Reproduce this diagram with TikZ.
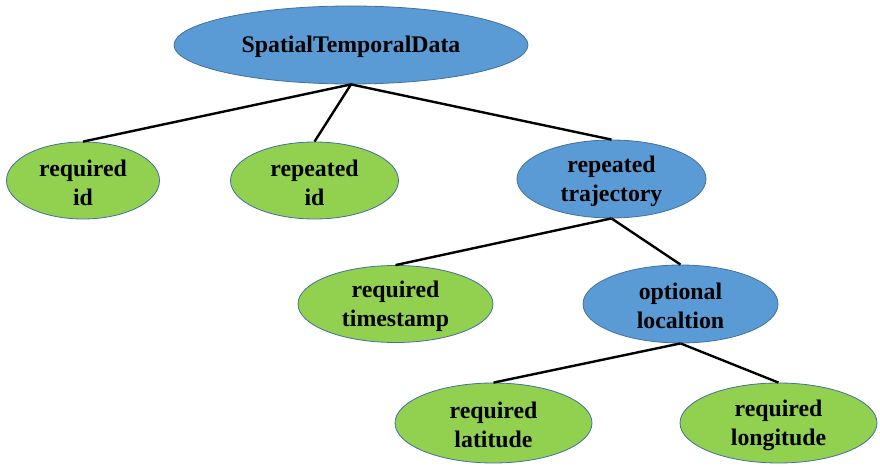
\documentclass[tikz,border=0pt]{standalone}
\usepackage{fontspec}
\setmainfont{Liberation Serif}
\usetikzlibrary{shapes.geometric}
\definecolor{bfill}{HTML}{5B9BD5}
\definecolor{gfill}{HTML}{92D050}
\definecolor{edgec}{HTML}{41719C}
\tikzset{
  shp/.style={ellipse, draw=edgec, line width=0.8bp, inner sep=0pt},
  bl/.style={shp, fill=bfill},
  gr/.style={shp, fill=gfill},
  txt/.style={align=center, inner sep=0pt, yshift=-2bp, font=\fontsize{23.8bp}{29bp}\selectfont\bfseries},
  conn/.style={line width=2.4bp, black}
}
\begin{document}
\begin{tikzpicture}[x=1bp, y=-1bp]
\useasboundingbox (0,0) rectangle (880,470);
\node[bl, minimum width=354bp, minimum height=78bp] (root) at (351,45) {};
\node[gr, minimum width=153bp, minimum height=77bp] (rid) at (83,180.5) {};
\node[gr, minimum width=168bp, minimum height=77bp] (pid) at (314.5,180.5) {};
\node[bl, minimum width=189bp, minimum height=78bp] (traj) at (611.5,179) {};
\node[gr, minimum width=195bp, minimum height=77bp] (ts) at (395.5,304) {};
\node[bl, minimum width=195bp, minimum height=78bp] (loc) at (680.5,304) {};
\node[gr, minimum width=197bp, minimum height=80bp] (lat) at (493.5,423) {};
\node[gr, minimum width=197bp, minimum height=80bp] (lon) at (778.5,423) {};
\node[txt] (troot) at (root.center) {SpatialTemporalData};
\node[txt] (trid) at (rid.center) {required\\id};
\node[txt] (tpid) at (pid.center) {repeated\\id};
\node[txt] (ttraj) at (traj.center) {repeated\\trajectory};
\node[txt] (tts) at (ts.center) {required\\timestamp};
\node[txt] (tloc) at (loc.center) {optional\\localtion};
\node[txt] (tlat) at (lat.center) {required\\latitude};
\node[txt] (tlon) at (lon.center) {required\\longitude};
\draw[conn] (root.south) -- (rid.north);
\draw[conn] (root.south) -- (pid.north);
\draw[conn] (root.south) -- (traj.north);
\draw[conn] (traj.south) -- (ts.north);
\draw[conn] (traj.south) -- (loc.north);
\draw[conn] (loc.south) -- (lat.north);
\draw[conn] (loc.south) -- (lon.north);
\end{tikzpicture}
\end{document}
